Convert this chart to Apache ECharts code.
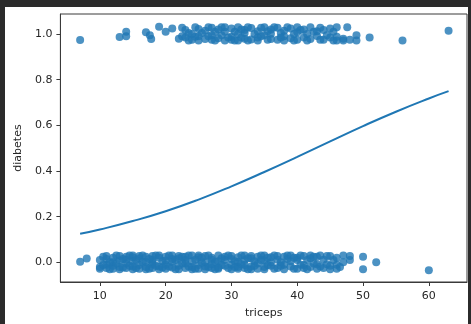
<!DOCTYPE html>
<html>
<head>
<meta charset="utf-8">
<script src="https://cdn.jsdelivr.net/npm/echarts@6/dist/echarts.min.js"></script>
<style>
  html, body { margin: 0; padding: 0; background: #2b2b2b; width: 471px; height: 324px; overflow: hidden; }
  #chart { position: absolute; left: 5px; top: 7px; width: 463px; height: 317px; background: #ffffff; }
</style>
</head>
<body>
<div id="chart"></div>
<script>
// Tick positions on each axis
const xTicks = [10, 20, 30, 40, 50, 60];
const yTicks = [0, 0.2, 0.4, 0.6, 0.8, 1.0];

// Observations with diabetes = 1 (triceps, jittered outcome)
const positiveCases = [
  [7,0.974],[13,0.987],[14,1.010],[14,0.990],[17,1.008],[17.6,0.995],[17.8,0.978],[19,1.032],
  [20,1.010],[21,1.025],[22,0.980],[23,1.018],[23,0.985],[24,1.000],[24,0.975],[25,1.022],
  [25,0.990],[25,0.972],[26,1.015],[26,0.978],[27,1.028],[27,0.995],[27,0.975],[28,1.020],
  [28,0.982],[29,1.010],[29,0.972],[29,1.030],[30,1.025],[30,0.988],[30,0.975],[31,1.030],
  [31,1.000],[31,0.972],[32,1.018],[32,0.980],[32,1.005],[33,1.027],[33,0.976],[34,1.012],
  [34,0.985],[34,0.972],[35,1.030],[35,0.995],[36,1.020],[36,0.978],[36,1.002],[37,1.028],
  [37,0.975],[38,1.015],[38,0.990],[38,0.972],[39,1.025],[39,0.982],[40,1.008],[40,0.975],
  [40,1.030],[41,1.020],[41,0.985],[42,1.030],[42,0.978],[43,1.012],[43,0.992],[44,0.975],
  [44,1.018],[45,1.025],[45,0.985],[46,1.030],[46,0.988],[46,0.972],[47,0.980],[47,0.972],
  [48,0.975],[49,0.995],[49,0.972],[51,0.985],[56,0.972],[63,1.015],
  [22.5,1.028],[22.5,0.990],[23.5,1.005],[23.5,0.972],[24.5,1.030],[24.5,0.988],[25.5,1.005],
  [26.5,1.030],[26.5,0.990],[27.5,1.010],[27.5,0.972],[28.5,1.030],[28.5,0.995],[29.5,0.985],
  [30.5,1.010],[30.5,0.972],[31.5,1.020],[31.5,0.985],[32.5,1.030],[32.5,0.972],[33.5,1.000],
  [34.5,1.028],[34.5,0.990],[35.5,1.012],[35.5,0.975],[36.5,1.030],[37.5,1.005],[37.5,0.985],
  [38.5,1.030],[39.5,1.000],[39.5,0.972],[40.5,1.018],[41.5,1.000],[41.5,0.972],[42.5,1.010],
  [43.5,1.028],[43.5,0.975],[44.5,0.995],[45.5,1.010],[45.5,0.972],[47.6,1.030]
];

// Observations with diabetes = 0 (triceps, jittered outcome)
const negativeCases = [
  [7,0.003],[8,0.017],
  [10,-0.020],[10,0.010],[10,-0.028],
  [11,0.015],[11,-0.010],[11,-0.025],[11,0.028],
  [12,0.020],[12,-0.015],[12,0.000],[12,-0.028],
  [13,0.028],[13,-0.020],[13,0.008],[13,-0.030],
  [14,0.025],[14,-0.005],[14,-0.025],[14,0.012],
  [15,0.022],[15,-0.018],[15,0.005],[15,-0.030],[15,0.030],
  [16,0.018],[16,-0.012],[16,-0.028],[16,0.028],
  [17,0.025],[17,-0.020],[17,0.002],[17,-0.030],
  [18,0.028],[18,-0.008],[18,-0.025],[18,0.012],[18,0.000],
  [19,0.020],[19,-0.018],[19,0.030],[19,-0.030],
  [20,0.025],[20,-0.010],[20,-0.028],[20,0.008],
  [21,0.030],[21,-0.022],[21,0.002],[21,0.015],
  [22,0.018],[22,-0.015],[22,-0.030],[22,0.028],
  [23,0.025],[23,-0.005],[23,-0.025],[23,0.010],
  [24,0.030],[24,-0.020],[24,0.005],[24,-0.030],
  [25,0.022],[25,-0.012],[25,-0.028],[25,0.030],
  [26,0.028],[26,-0.018],[26,0.000],[26,-0.030],
  [27,0.020],[27,-0.008],[27,-0.025],[27,0.012],
  [28,0.030],[28,-0.022],[28,0.005],[28,-0.028],
  [29,0.025],[29,-0.015],[29,0.010],
  [30,0.028],[30,-0.010],[30,-0.030],[30,0.015],
  [31,0.022],[31,-0.020],[31,0.002],[31,-0.028],
  [32,0.030],[32,-0.012],[32,-0.025],[32,0.010],
  [33,0.018],[33,-0.018],[33,0.028],[33,-0.030],
  [34,0.025],[34,-0.005],[34,-0.028],
  [35,0.030],[35,-0.020],[35,0.008],[35,-0.030],
  [36,0.022],[36,-0.015],[36,0.000],
  [37,0.028],[37,-0.025],[37,0.012],
  [38,0.025],[38,-0.010],[38,-0.030],
  [39,0.030],[39,-0.018],[39,0.005],
  [40,0.020],[40,-0.028],[40,0.010],
  [41,0.028],[41,-0.012],[41,-0.025],
  [42,0.018],[42,-0.020],[42,0.030],
  [43,0.025],[43,-0.008],[43,-0.028],
  [44,0.012],[44,-0.025],
  [45,0.028],[45,-0.015],[45,-0.030],
  [46,0.020],[46,-0.010],[46,-0.028],
  [47,0.030],[47,0.000],
  [48,0.028],[48,0.010],
  [50,0.025],[50,-0.030],
  [52,0.000],[60,-0.034],
  [10.5,0.025],[10.5,-0.012],[11.5,0.000],[11.5,-0.030],[12.5,0.030],[12.5,-0.005],
  [13.5,0.015],[13.5,-0.022],[14.5,0.030],[14.5,-0.015],[15.5,0.010],[15.5,-0.025],
  [16.5,0.030],[16.5,0.000],[17.5,0.015],[17.5,-0.028],[18.5,0.030],[18.5,-0.015],
  [19.5,0.005],[19.5,-0.022],[20.5,0.030],[20.5,-0.018],[21.5,0.010],[21.5,-0.030],
  [22.5,0.025],[22.5,-0.005],[23.5,0.030],[23.5,-0.018],[24.5,0.012],[24.5,-0.028],
  [25.5,0.020],[25.5,-0.002],[26.5,0.030],[26.5,-0.020],[27.5,0.002],[27.5,-0.030],
  [28.5,0.018],[28.5,-0.012],[29.5,0.030],[29.5,-0.025],[30.5,0.005],[30.5,-0.020],
  [31.5,0.030],[31.5,-0.008],[32.5,0.018],[32.5,-0.030],[33.5,0.005],[33.5,-0.015],
  [34.5,0.030],[34.5,0.010],[35.5,0.020],[35.5,-0.012],[36.5,0.030],[36.5,-0.028],
  [37.5,0.000],[37.5,-0.015],[38.5,0.015],[38.5,0.030],[39.5,-0.028],[39.5,0.020],
  [40.5,-0.010],[40.5,0.030],[41.5,0.010],[41.5,-0.030],[42.5,-0.005],[42.5,0.025],
  [43.5,0.030],[43.5,-0.018],[44.5,0.028],[44.5,-0.008],[45.5,0.010],[46.5,-0.020]
];

// Fitted logistic curve: triceps value and predicted probability
const curveX = [7, 10, 15, 20, 25, 30, 35, 40, 45, 50, 55, 60, 63];
const curveY = [0.125, 0.144, 0.181, 0.224, 0.275, 0.333, 0.396, 0.462, 0.530, 0.597, 0.660, 0.718, 0.750];

const blue = '#1f77b4';
const textColor = '#262626';
const frameColor = '#3a3a3a';
const fontFamily = 'DejaVu Sans';

const chart = echarts.init(document.getElementById('chart'), null, { renderer: 'canvas' });

chart.setOption({
  animation: false,
  backgroundColor: '#ffffff',
  grid: {
    left: 54, top: 7, width: 408, height: 268,
    show: true, borderColor: frameColor, borderWidth: 1, backgroundColor: 'transparent'
  },
  xAxis: {
    type: 'value',
    min: 4.0, max: 65.8,
    name: 'triceps', nameLocation: 'middle', nameGap: 26,
    nameTextStyle: { color: textColor, fontSize: 11, fontFamily },
    axisLine: { show: true, onZero: false, lineStyle: { color: frameColor, width: 1 } },
    splitLine: { show: false },
    axisTick: { show: true, length: 4, lineStyle: { color: frameColor }, customValues: xTicks },
    axisLabel: { color: textColor, fontSize: 11, fontFamily, margin: 9, customValues: xTicks,
                 formatter: v => String(v) }
  },
  yAxis: {
    type: 'value',
    min: -0.086, max: 1.088,
    name: 'diabetes', nameLocation: 'middle', nameGap: 36, nameRotate: 90,
    nameTextStyle: { color: textColor, fontSize: 11, fontFamily },
    axisLine: { show: true, onZero: false, lineStyle: { color: frameColor, width: 1 } },
    splitLine: { show: false },
    axisTick: { show: true, length: 4, lineStyle: { color: frameColor }, customValues: yTicks },
    axisLabel: { color: textColor, fontSize: 11, fontFamily, margin: 8, customValues: yTicks,
                 formatter: v => v.toFixed(1) }
  },
  series: [
    {
      type: 'scatter',
      data: negativeCases,
      symbolSize: 8,
      itemStyle: { color: blue, opacity: 0.8 },
      z: 2
    },
    {
      type: 'scatter',
      data: positiveCases,
      symbolSize: 8,
      itemStyle: { color: blue, opacity: 0.8 },
      z: 2
    },
    {
      type: 'line',
      data: curveX.map((x, i) => [x, curveY[i]]),
      smooth: true,
      showSymbol: false,
      lineStyle: { color: blue, width: 2 },
      z: 3
    }
  ]
});
</script>
</body>
</html>
